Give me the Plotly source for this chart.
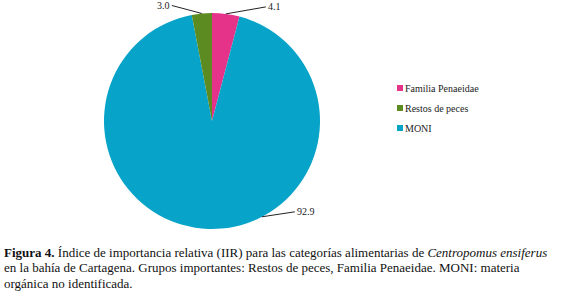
import math
import plotly.graph_objects as go

W, H = 577, 296

categories = ["Familia Penaeidae", "MONI", "Restos de peces"]
values = [4.1, 92.9, 3.0]
slice_colors = {"Familia Penaeidae": "#E6338A", "Restos de peces": "#5B8B21", "MONI": "#07A3C9"}
legend_order = ["Familia Penaeidae", "Restos de peces", "MONI"]
value_labels = ["4.1", "92.9", "3.0"]

SERIF = "'Times New Roman', Tinos, 'Liberation Serif', 'DejaVu Serif', serif"

cx, cy, r = 212, 121, 108

def px(x):
    return x / W

def py(y):
    return 1 - y / H

fig = go.Figure()
fig.add_trace(go.Pie(
    labels=categories,
    values=values,
    marker=dict(colors=[slice_colors[c] for c in categories], line=dict(width=0)),
    sort=False,
    direction="clockwise",
    rotation=0,
    textinfo="none",
    hoverinfo="label+value",
    showlegend=False,
    domain=dict(x=[px(cx - r), px(cx + r)], y=[py(cy + r), py(cy - r)]),
))

total = sum(values)
cum = 0
mids = []
for v in values:
    mids.append((cum + v / 2) / total * 360)
    cum += v
anchor_angles = [mids[0], 152.5, mids[2] - 360]
offsets = [(40, -7), (33, -5), (-30, -8)]
for lab, ang, (ox, oy) in zip(value_labels, anchor_angles, offsets):
    a = math.radians(ang)
    x0 = cx + r * math.sin(a)
    y0 = cy - r * math.cos(a)
    fig.add_annotation(
        x=px(x0), y=py(y0), xref="paper", yref="paper",
        ax=ox, ay=oy, axref="pixel", ayref="pixel",
        text=lab, showarrow=True, arrowhead=0, arrowwidth=1, arrowcolor="#222",
        standoff=0, startstandoff=0,
        font=dict(family=SERIF, size=10, color="#222"),
        xanchor="left" if ox > 0 else "right",
    )

for i, name in enumerate(legend_order):
    yc = 88 + i * 20
    fig.add_shape(type="rect", xref="paper", yref="paper",
                  x0=px(397), x1=px(403), y0=py(yc + 3), y1=py(yc - 3),
                  fillcolor=slice_colors[name], line=dict(width=0))
    fig.add_annotation(x=px(403), y=py(yc), xref="paper", yref="paper",
                       text=name, showarrow=False, xanchor="left", yanchor="middle",
                       font=dict(family=SERIF, size=10, color="#222"))

caption_lines = [
    "<b>Figura 4.</b> Índice de importancia relativa (IIR) para las categorías alimentarias de <i>Centropomus ensiferus</i>",
    "en la bahía de Cartagena. Grupos importantes: Restos de peces, Familia Penaeidae. MONI: materia",
    "orgánica no identificada.",
]
for i, line in enumerate(caption_lines):
    fig.add_annotation(x=px(2), y=py(252 + i * 15.5), xref="paper", yref="paper",
                       text=line, showarrow=False, xanchor="left", yanchor="middle",
                       font=dict(family=SERIF, size=13, color="#111"))

fig.update_layout(
    width=W, height=H,
    margin=dict(l=0, r=0, t=0, b=0),
    paper_bgcolor="white", plot_bgcolor="white",
    showlegend=False,
    font=dict(family=SERIF),
)
fig.write_html("out.html", post_script="document.body.style.margin='0';",
               config={"displayModeBar": False})
